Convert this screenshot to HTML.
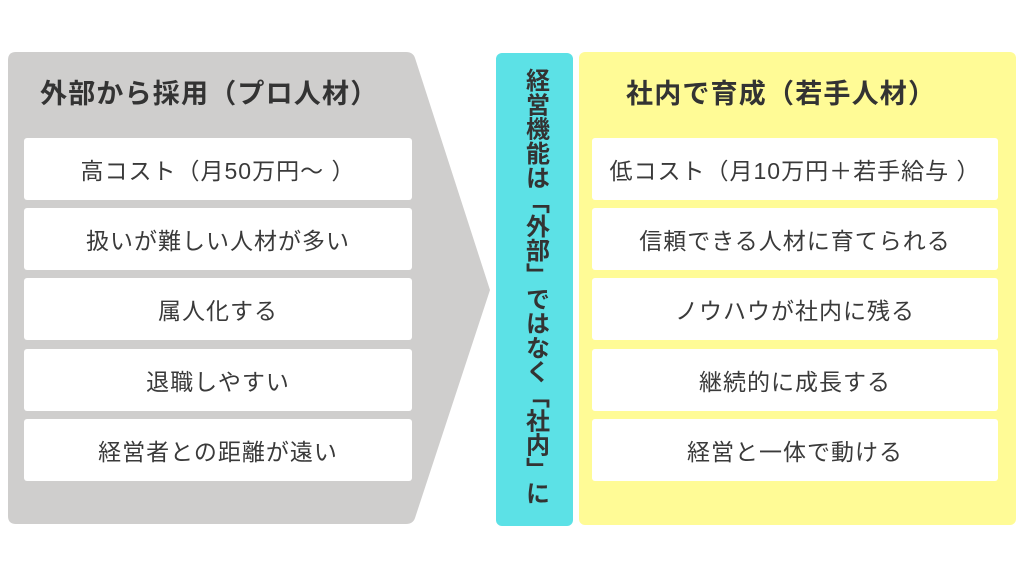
<!DOCTYPE html>
<html><head><meta charset="utf-8"><style>
body{margin:0;width:1024px;height:576px;background:#fff;position:relative;overflow:hidden;font-family:"Liberation Sans","Noto Sans CJK JP",sans-serif;color:#3a3a3a}
.box{position:absolute;background:#fff;border-radius:3px;display:flex;align-items:center;justify-content:center;font-size:23px;letter-spacing:1px}
.t{position:absolute;font-size:27px;font-weight:bold;color:#333;letter-spacing:1.2px}
</style></head><body>
<svg style="position:absolute;left:0;top:0" width="1024" height="576">
<path d="M16 52 L406 52 Q413 52 415 58 L490 290 L415 518 Q413 524 406 524 L16 524 Q8 524 8 516 L8 60 Q8 52 16 52Z" fill="#cfcecd"/>
<rect x="496" y="53" width="77" height="473" rx="6" fill="#5ce1e6"/>
<rect x="579" y="52" width="437" height="473" rx="6" fill="#fffb96"/>
</svg>
<div class="t" style="left:40px;top:72px">外部から採用（プロ人材）</div>
<div class="t" style="left:626px;top:72px">社内で育成（若手人材）</div>
<div class="box" style="left:24px;top:138px;width:388px;height:62px">高コスト（月50万円〜 ）</div>
<div class="box" style="left:24px;top:208px;width:388px;height:62px">扱いが難しい人材が多い</div>
<div class="box" style="left:24px;top:278px;width:388px;height:62px">属人化する</div>
<div class="box" style="left:24px;top:349px;width:388px;height:62px">退職しやすい</div>
<div class="box" style="left:24px;top:419px;width:388px;height:62px">経営者との距離が遠い</div>
<div class="box" style="left:592px;top:138px;width:406px;height:62px">低コスト（月10万円＋若手給与 ）</div>
<div class="box" style="left:592px;top:208px;width:406px;height:62px">信頼できる人材に育てられる</div>
<div class="box" style="left:592px;top:278px;width:406px;height:62px">ノウハウが社内に残る</div>
<div class="box" style="left:592px;top:349px;width:406px;height:62px">継続的に成長する</div>
<div class="box" style="left:592px;top:419px;width:406px;height:62px">経営と一体で動ける</div>
<div style="position:absolute;left:496px;top:68px;width:77px;height:445px;display:flex;justify-content:center">
<div style="writing-mode:vertical-rl;font-size:24px;font-weight:bold;color:#333;line-height:1;letter-spacing:0.3px">経営機能は「外部」ではなく「社内」に</div></div>
</body></html>
